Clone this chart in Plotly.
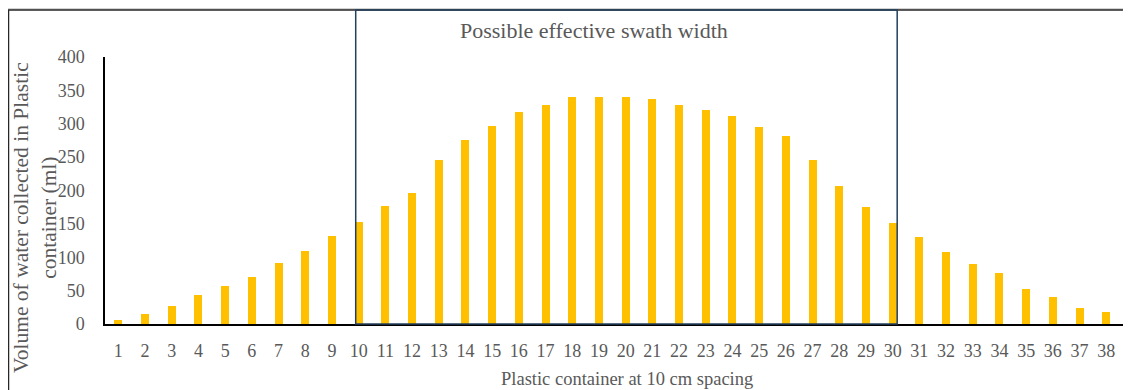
import plotly.graph_objects as go

# ---- data ----
containers = list(range(1, 40))
volume_ml = [6, 15.5, 27, 43, 57, 71, 92, 110, 132, 153,
             177, 197, 245, 275, 297, 318, 328, 340, 340, 340,
             337, 328, 321, 311, 295, 281, 246, 207, 176, 151,
             130, 108, 90, 77, 53, 40, 24.5, 18, 9]
y_ticks = [0, 50, 100, 150, 200, 250, 300, 350, 400]
swath_start, swath_end = 9.89, 30.17
box_label = "Possible effective swath width"
x_title = "Plastic container at 10 cm spacing"
y_title = "Volume of water collected in Plastic<br>container (ml)"

# the page body adds an 8px margin; size the figure so it fills the window
OFF = 8
WIN_W, WIN_H = 1131, 390
W, H = WIN_W - OFF, WIN_H - OFF
# target pixel positions are measured in window coordinates
AX_LEFT, AX_BOTTOM, AX_TOP = 105, 324, 57
ML = AX_LEFT - OFF
MB = WIN_H - AX_BOTTOM
MT = AX_TOP - OFF
MR = 0
cat_px = 26.7
x0 = 0.5
x1 = x0 + (W - ML - MR) / cat_px

FONT = "Liberation Serif, Times New Roman, serif"
GRAY = "#595959"
BOX = "#22405F"

def px_to_paper_x(px):
    return (px - OFF - ML) / (W - ML - MR)

def px_to_paper_y(py):
    return (H - MB - (py - OFF)) / (H - MT - MB)

fig = go.Figure()
fig.add_trace(go.Bar(x=containers, y=volume_ml, width=0.3,
                     marker=dict(color="#FFC000", line=dict(width=0)),
                     showlegend=False))

fig.update_layout(
    width=W, height=H,
    margin=dict(l=ML, r=MR, t=MT, b=MB, pad=0),
    paper_bgcolor="white", plot_bgcolor="white",
    font=dict(family=FONT, color=GRAY),
    xaxis=dict(range=[x0, x1], tickmode="array", tickvals=containers,
               ticktext=[str(c) for c in containers],
               showgrid=False, zeroline=False, showline=True,
               linecolor="black", linewidth=1.5, ticks="",
               tickfont=dict(size=18, color=GRAY, family=FONT),
               ticklabelstandoff=10),
    yaxis=dict(range=[0, 400], tickvals=y_ticks, showgrid=False,
               zeroline=False, showline=True, linecolor="black",
               linewidth=1.5, ticks="",
               tickfont=dict(size=18, color=GRAY, family=FONT),
               ticklabelstandoff=15),
    bargap=0,
)

ytop = px_to_paper_y(10)
# outer frame
fig.add_shape(type="line", xref="paper", yref="paper",
              x0=px_to_paper_x(0), x1=px_to_paper_x(WIN_W + 5),
              y0=px_to_paper_y(9), y1=px_to_paper_y(9),
              line=dict(color="#A6A6A6", width=1))
fig.add_shape(type="line", xref="paper", yref="paper",
              x0=px_to_paper_x(8), x1=px_to_paper_x(WIN_W + 5),
              y0=ytop, y1=ytop, line=dict(color="#262626", width=1.5))
fig.add_shape(type="line", xref="paper", yref="paper",
              x0=px_to_paper_x(8.5), x1=px_to_paper_x(8.5),
              y0=ytop, y1=px_to_paper_y(WIN_H + 5),
              line=dict(color="#262626", width=1.5))
# swath box
fig.add_shape(type="rect", xref="x", yref="paper",
              x0=swath_start, x1=swath_end, y0=0, y1=ytop,
              line=dict(color=BOX, width=1.5), layer="above")

fig.add_annotation(text=box_label, xref="paper", yref="paper",
                   x=px_to_paper_x(594), y=px_to_paper_y(31),
                   xanchor="center", yanchor="middle",
                   showarrow=False, font=dict(size=22, color=GRAY, family=FONT))
fig.add_annotation(text=x_title, xref="paper", yref="paper",
                   x=px_to_paper_x(627), y=px_to_paper_y(379),
                   xanchor="center", yanchor="middle",
                   showarrow=False, font=dict(size=18.5, color=GRAY, family=FONT))
fig.add_annotation(text=y_title, xref="paper", yref="paper",
                   x=px_to_paper_x(35), y=px_to_paper_y(218),
                   xanchor="center", yanchor="middle",
                   textangle=-90, showarrow=False,
                   font=dict(size=21.5, color=GRAY, family=FONT))
# partially visible last tick label
fig.add_annotation(text=str(containers[-1]), xref="paper", yref="paper",
                   x=(containers[-1] - x0) / (x1 - x0), y=px_to_paper_y(349),
                   xanchor="center", yanchor="middle",
                   showarrow=False, font=dict(size=18, color=GRAY, family=FONT))

fig.write_html("out.html")
